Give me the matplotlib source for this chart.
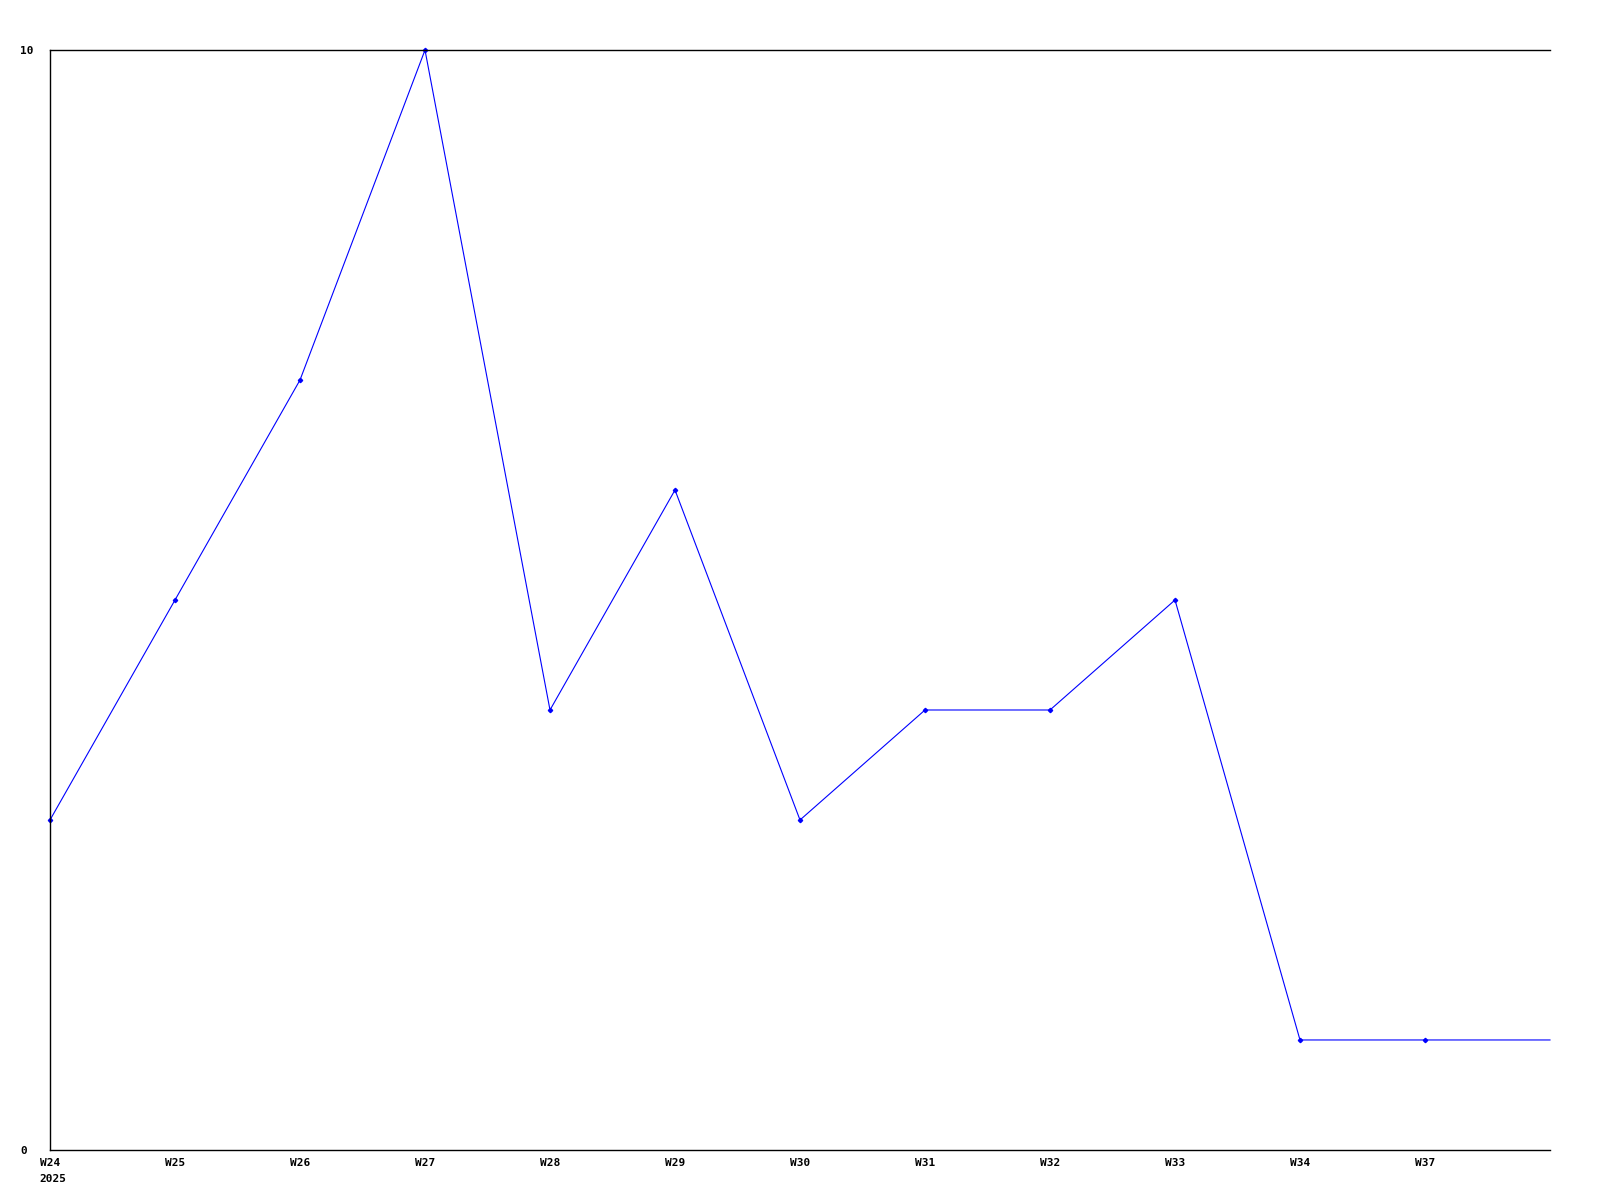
import numpy as np
import matplotlib.pyplot as plt

plt.rcParams['font.family'] = 'DejaVu Sans Mono'
plt.rcParams['font.weight'] = 'bold'
plt.rcParams['font.size'] = 8

weeks = ['W24', 'W25', 'W26', 'W27', 'W28', 'W29', 'W30',
         'W31', 'W32', 'W33', 'W34', 'W37', '']
counts = [3, 5, 7, 10, 4, 6, 3, 4, 4, 5, 1, 1, 1]
year = '2025'

fig = plt.figure(figsize=(16, 12), dpi=100)
ax = fig.add_axes([0.03125, 0.0417, 0.9375, 0.9166])

x = np.arange(len(weeks))
ax.plot(x, counts, color='#0000ff', lw=0.8, marker='D', ms=2.2,
        markevery=list(range(len(weeks) - 1)), clip_on=False)

ax.set_xlim(0, len(weeks) - 1)
ax.set_ylim(0, 10)
ax.set_xticks(x[:-1])
ax.set_xticklabels(weeks[:-1])
ax.set_yticks([0, 10])
ax.set_yticklabels(['0', '10'], ha='left')
ax.tick_params(axis='both', length=0)
ax.tick_params(axis='x', pad=6)
ax.tick_params(axis='y', pad=21.5)
ax.spines['right'].set_visible(False)
for s in ['left', 'top', 'bottom']:
    ax.spines[s].set_linewidth(1.0)

# year under the first week label, left-aligned with it
ax.annotate(year, xy=(0, 0), xycoords=('data', 'axes fraction'),
            xytext=(-7.3, -17), textcoords='offset points',
            ha='left', va='top')

plt.savefig('out.png', dpi=100)
